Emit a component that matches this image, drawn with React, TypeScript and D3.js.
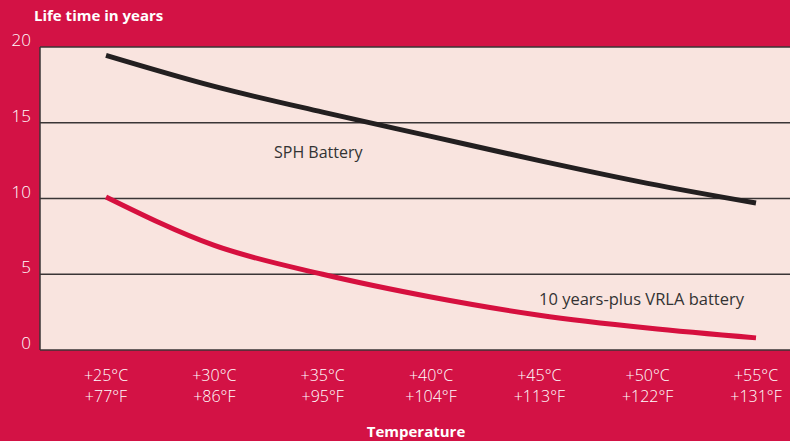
import React, { useEffect, useRef } from 'react';
import * as d3 from 'd3';

const temps = [25, 30, 35, 40, 45, 50, 55];
const celsiusLabels = ['+25°C', '+30°C', '+35°C', '+40°C', '+45°C', '+50°C', '+55°C'];
const fahrenheitLabels = ['+77°F', '+86°F', '+95°F', '+104°F', '+113°F', '+122°F', '+131°F'];
const sphValues = [19.45, 17.4, 15.7, 14.1, 12.5, 11.0, 9.7];
const vrlaValues = [10.1, 6.9, 5.0, 3.5, 2.3, 1.45, 0.8];
const yTicks = [0, 5, 10, 15, 20];

const width = 790;
const height = 441;

export default function App() {
  const ref = useRef<SVGSVGElement>(null);

  useEffect(() => {
    document.body.style.margin = '0';
    if (!ref.current) return;
    const svg = d3.select(ref.current);
    svg.selectAll('*').remove();

    const plotLeft = 40;
    const plotRight = 790;
    const plotTop = 47;
    const plotBottom = 350;

    const x = d3.scaleLinear().domain([25, 55]).range([106, 756]);
    const y = d3.scaleLinear().domain([0, 20]).range([plotBottom, plotTop]);

    const font = '"Open Sans", Roboto, sans-serif';

    // background
    svg.append('rect').attr('width', width).attr('height', height).attr('fill', '#D31245');

    svg.append('rect')
      .attr('x', plotLeft)
      .attr('y', plotTop)
      .attr('width', plotRight - plotLeft)
      .attr('height', plotBottom - plotTop)
      .attr('fill', '#F9E4DF');

    // gridlines
    svg.selectAll('line.grid')
      .data(yTicks)
      .enter()
      .append('line')
      .attr('x1', plotLeft)
      .attr('x2', plotRight)
      .attr('y1', d => y(d))
      .attr('y2', d => y(d))
      .attr('stroke', '#3a3536')
      .attr('stroke-width', 1.5);

    svg.append('line')
      .attr('x1', plotLeft)
      .attr('x2', plotLeft)
      .attr('y1', plotTop)
      .attr('y2', plotBottom)
      .attr('stroke', '#3a3536')
      .attr('stroke-width', 1.5);

    // y tick labels
    svg.selectAll('text.ytick')
      .data(yTicks)
      .enter()
      .append('text')
      .text(d => String(d))
      .attr('x', 31)
      .attr('y', d => y(d) - 1)
      .attr('text-anchor', 'end')
      .style('font-family', font)
      .style('font-size', '17px')
      .style('font-weight', 300)
      .style('fill', '#fff');

    svg.append('text')
      .text('Life time in years')
      .attr('x', 34)
      .attr('y', 21)
      .style('font-family', font)
      .style('font-size', '15px')
      .style('font-weight', 'bold')
      .style('fill', '#fff');

    // x labels
    const xl = svg.selectAll('g.xlab')
      .data(temps)
      .enter()
      .append('g')
      .attr('transform', d => `translate(${x(d)},0)`);
    xl.append('text')
      .text((d, i) => celsiusLabels[i])
      .attr('y', 381)
      .attr('text-anchor', 'middle')
      .style('font-family', font)
      .style('font-size', '16px')
      .style('font-weight', 300)
      .style('fill', '#fff');
    xl.append('text')
      .text((d, i) => fahrenheitLabels[i])
      .attr('y', 402)
      .attr('text-anchor', 'middle')
      .style('font-family', font)
      .style('font-size', '16px')
      .style('font-weight', 300)
      .style('fill', '#fff');

    svg.append('text')
      .text('Temperature')
      .attr('x', 416)
      .attr('y', 437)
      .attr('text-anchor', 'middle')
      .style('font-family', font)
      .style('font-size', '15px')
      .style('font-weight', 'bold')
      .style('fill', '#fff');

    // lines
    const line = d3.line<number>()
      .x((d, i) => x(temps[i]))
      .y(d => y(d))
      .curve(d3.curveMonotoneX);

    svg.append('path')
      .attr('d', line(vrlaValues))
      .attr('fill', 'none')
      .attr('stroke', '#D6103F')
      .attr('stroke-width', 5);

    svg.append('path')
      .attr('d', line(sphValues))
      .attr('fill', 'none')
      .attr('stroke', '#231F20')
      .attr('stroke-width', 5);

    // series labels
    svg.append('text')
      .text('SPH Battery')
      .attr('x', 274)
      .attr('y', 158)
      .style('font-family', font)
      .style('font-size', '16px')
      .style('fill', '#333');

    svg.append('text')
      .text('10 years-plus VRLA battery')
      .attr('x', 539)
      .attr('y', 305)
      .style('font-family', font)
      .style('font-size', '16.5px')
      .style('fill', '#333');
  }, []);

  return <svg ref={ref} width={width} height={height} style={{ display: 'block' }} />;
}
